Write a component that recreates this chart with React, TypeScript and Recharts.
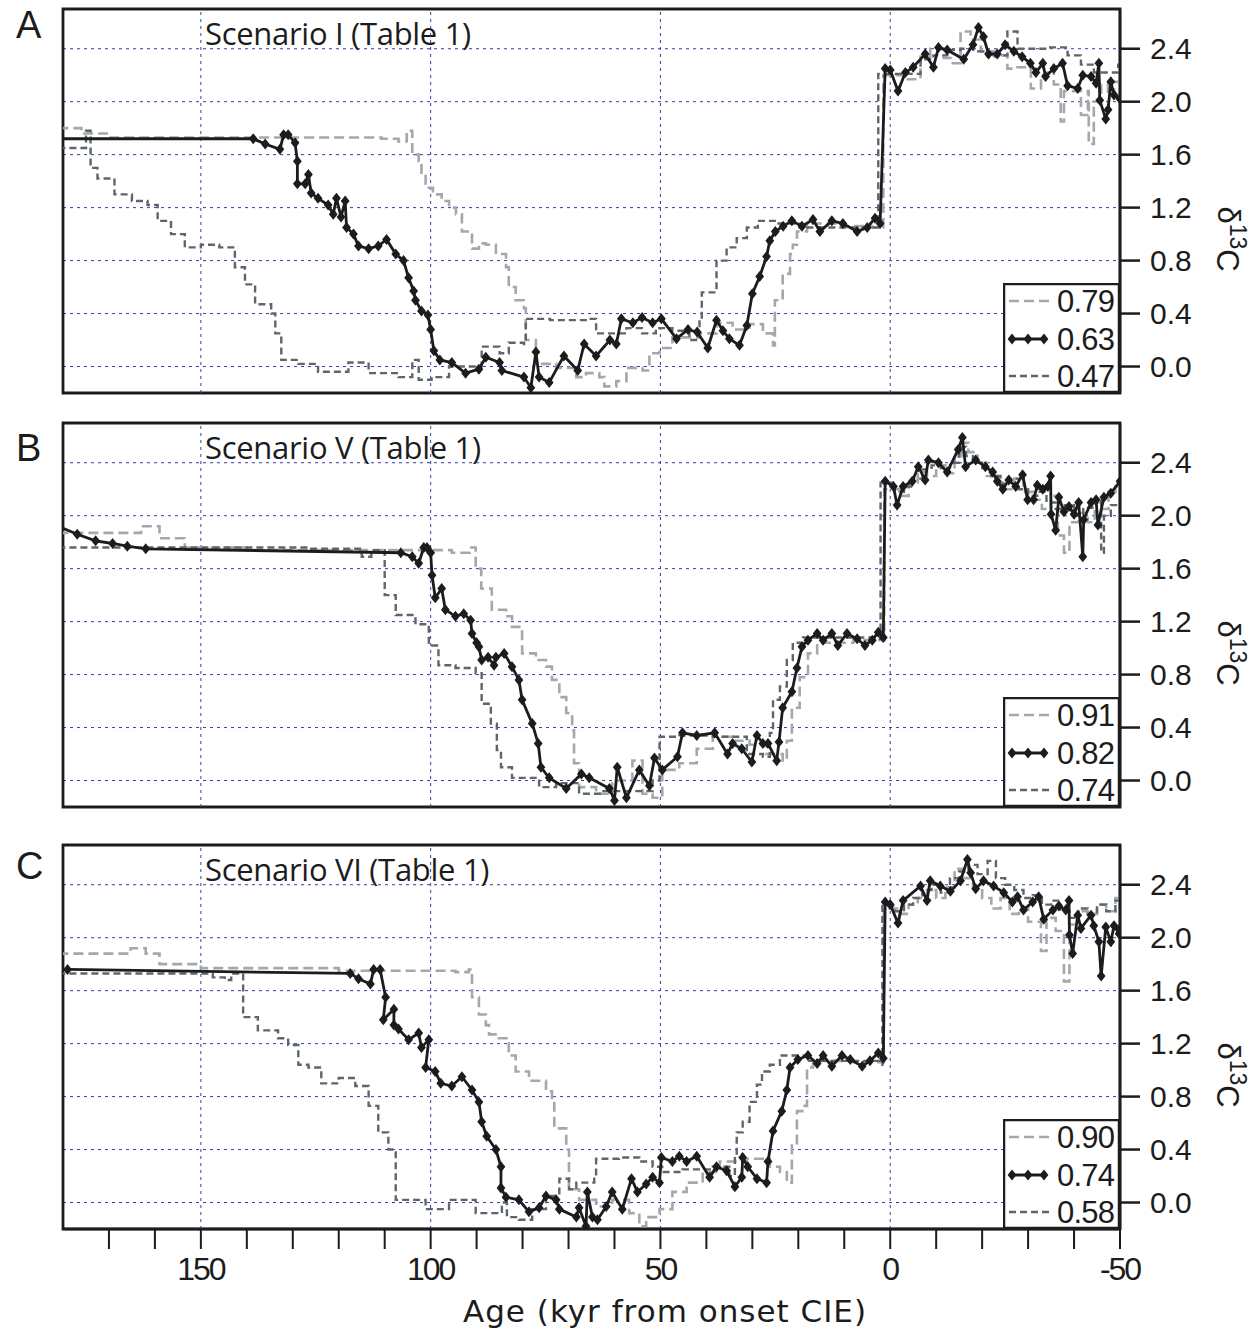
import React from 'react'
import {
  CartesianGrid,
  Legend,
  Line,
  LineChart,
  ReferenceArea,
  ReferenceLine,
  XAxis,
  YAxis,
} from 'recharts'

type Pt = [number, number]

// x axis: age in kyr from onset CIE (reversed, 180 -> -50)
const ageTicks = [170, 160, 150, 140, 130, 120, 110, 100, 90, 80, 70, 60, 50, 40, 30, 20, 10, 0, -10, -20, -30, -40, -50]
const ageLabels = [150, 100, 50, 0, -50]
const ageGrid = [150, 100, 50, 0]
const d13cTicks = [0, 0.4, 0.8, 1.2, 1.6, 2.0, 2.4]

// ---- Panel A, Scenario I ----
const aHi: Pt[] = [
  [181, 1.8], [176, 1.76], [170, 1.73], [140, 1.73], [110.7, 1.72], [107, 1.7], [105.2, 1.78], [104, 1.6],
  [102.6, 1.55], [102, 1.45], [101.1, 1.35], [99.5, 1.3], [97.6, 1.25], [96, 1.2], [94.5, 1.15], [93.2, 1.02],
  [91, 0.89], [89.5, 0.93], [88, 0.92], [85.8, 0.85], [83.6, 0.75], [83, 0.6], [81.5, 0.5], [79.7, 0.44],
  [79.3, 0.2], [77.1, 0.02], [72.7, -0.01], [68.3, -0.08], [66.2, -0.05], [63.3, -0.08], [62.2, -0.15],
  [59.6, -0.11], [57.4, -0.01], [53.9, -0.03], [52.4, 0.1], [50.2, 0.14], [47.4, 0.22], [41.5, 0.25],
  [37.8, 0.33], [34.3, 0.28], [30.6, 0.32], [27.7, 0.25], [25.5, 0.16], [25.1, 0.5], [23.4, 0.7], [21.8, 0.85],
  [21.2, 0.92], [20.3, 1.02], [18.1, 1.08], [10, 1.06], [4, 1.05], [1.5, 2.2], [-2.8, 2.17], [-6.6, 2.34],
  [-8.7, 2.4], [-11.6, 2.33], [-13.1, 2.29], [-15.3, 2.53], [-17.5, 2.47], [-19.7, 2.38], [-22.5, 2.35],
  [-25.5, 2.25], [-27.7, 2.26], [-30.6, 2.1], [-32.8, 2.2], [-34.3, 2.25], [-35.6, 2.13], [-37.1, 1.85],
  [-37.8, 2.08], [-40, 2.08], [-41.5, 1.9], [-43, 2.08], [-43.2, 1.68], [-44.3, 2.0], [-45.9, 2.13],
  [-47.4, 2.05], [-48.7, 2.15], [-50, 2.17],
]
const aMid: Pt[] = [
  [181, 1.72], [138.6, 1.72], [136, 1.68], [132.8, 1.64], [132, 1.75], [131, 1.75], [129.5, 1.69], [129, 1.55],
  [129, 1.38], [127.3, 1.38], [126.6, 1.45], [126, 1.31], [124.5, 1.27], [122.3, 1.22], [121.2, 1.15],
  [120.5, 1.27], [119.5, 1.13], [118.6, 1.25], [118.3, 1.05], [116.8, 1.0], [115.7, 0.91], [113.5, 0.89],
  [111.4, 0.91], [109.6, 0.96], [107.6, 0.85], [105.9, 0.8], [104.8, 0.67], [103.7, 0.57], [103.3, 0.5],
  [102, 0.42], [100.6, 0.39], [100, 0.28], [99.3, 0.12], [98, 0.05], [95.4, 0.03], [92.4, -0.05],
  [89.5, -0.02], [88, 0.07], [85, 0.03], [84.5, -0.03], [79.7, -0.08], [78.2, -0.16], [77.1, 0.11],
  [76.4, -0.08], [74.2, -0.12], [71, 0.08], [68, -0.03], [66.6, 0.17], [64, 0.08], [61, 0.2], [59.6, 0.17],
  [58.5, 0.36], [56, 0.33], [54, 0.37], [51.7, 0.33], [49.8, 0.36], [46.5, 0.21], [44, 0.28], [42, 0.26],
  [39.7, 0.14], [37.8, 0.35], [36.4, 0.27], [35, 0.21], [32.8, 0.16], [31.2, 0.31], [30, 0.55], [28.4, 0.68],
  [26.9, 0.83], [26.2, 0.95], [25, 1.02], [23.3, 1.06], [21.4, 1.1], [19.2, 1.06], [16.8, 1.11], [15.3, 1.02],
  [12.7, 1.1], [10.3, 1.08], [7.2, 1.02], [5, 1.05], [3.3, 1.12], [2.2, 1.08], [1.1, 2.25], [0, 2.24],
  [-1.7, 2.08], [-3.3, 2.22], [-5, 2.26], [-7.6, 2.36], [-9.4, 2.26], [-10.5, 2.41], [-12.4, 2.39],
  [-16, 2.32], [-18, 2.43], [-19.2, 2.56], [-20.3, 2.49], [-21.4, 2.36], [-23.3, 2.36], [-25, 2.43],
  [-26.9, 2.38], [-28.7, 2.34], [-30.5, 2.29], [-31.7, 2.22], [-33.2, 2.29], [-33.8, 2.19], [-35.6, 2.25],
  [-37.5, 2.29], [-38.6, 2.12], [-40.8, 2.1], [-41.9, 2.2], [-43.7, 2.19], [-44.8, 2.14], [-45.4, 2.29],
  [-45.6, 2.01], [-46.9, 1.87], [-47.4, 1.94], [-48, 2.15], [-48.7, 2.05], [-50, 2.02],
]
const aLo: Pt[] = [
  [181, 1.65], [176, 1.65], [175, 1.78], [174, 1.5], [172.5, 1.42], [168.8, 1.3], [165, 1.25], [161.6, 1.22],
  [159.4, 1.1], [156.5, 1.0], [153.5, 0.9], [150, 0.92], [146, 0.9], [142.6, 0.75], [140.4, 0.62],
  [138.2, 0.47], [134.7, 0.4], [133.8, 0.25], [132.5, 0.05], [128.8, 0.02], [124.5, -0.04], [117.9, 0.03],
  [113.5, -0.05], [107, -0.08], [104, 0.05], [102.6, -0.1], [99.8, -0.08], [96, 0.0], [88.9, 0.15], [85, 0.1],
  [83, 0.18], [79.7, 0.17], [79.3, 0.36], [74, 0.35], [66, 0.36], [64, 0.25], [57.4, 0.29], [54, 0.25],
  [51, 0.29], [47.4, 0.27], [43.7, 0.2], [41.5, 0.35], [41, 0.56], [38.6, 0.56], [37.8, 0.8], [35.6, 0.9],
  [33.4, 0.97], [31.2, 1.05], [28.8, 1.1], [24.7, 1.08], [19.7, 1.05], [2.8, 1.05], [2.6, 2.21], [-2.8, 2.21],
  [-6.6, 2.32], [-9.4, 2.35], [-12.4, 2.39], [-15.3, 2.4], [-18.1, 2.38], [-21.2, 2.34], [-23.3, 2.35],
  [-25.5, 2.53], [-27, 2.53], [-27.7, 2.4], [-31.2, 2.4], [-34.3, 2.41], [-38.6, 2.35], [-41.5, 2.28],
  [-44.3, 2.22], [-47.4, 2.22], [-49.6, 2.28], [-50, 2.28],
]

// ---- Panel B, Scenario V ----
const bHi: Pt[] = [
  [181, 1.87], [166.6, 1.87], [163, 1.92], [159, 1.83], [153.5, 1.76], [140, 1.74], [95.4, 1.72], [91.5, 1.76],
  [90.2, 1.6], [89, 1.45], [86.7, 1.29], [83.6, 1.24], [82.3, 1.16], [80.1, 0.96], [77.1, 0.91], [74.9, 0.86],
  [73.6, 0.76], [72, 0.63], [70.5, 0.51], [69.2, 0.38], [68.8, 0.13], [67.7, -0.05], [64, -0.1], [60.5, 0.0],
  [56.1, 0.15], [53.9, -0.1], [51.7, -0.13], [49.6, 0.08], [45.9, 0.13], [42.1, 0.24], [38.6, 0.33],
  [34.3, 0.3], [30.6, 0.27], [26.9, 0.2], [23.4, 0.15], [22.5, 0.3], [21.4, 0.55], [19.7, 0.78], [17.9, 0.96],
  [15.9, 1.04], [8, 1.06], [1.5, 1.06], [1.3, 2.2], [-2, 2.15], [-4, 2.25], [-6, 2.33], [-8, 2.3], [-10, 2.38],
  [-12, 2.32], [-14, 2.45], [-15.5, 2.55], [-17, 2.48], [-19, 2.4], [-21, 2.3], [-23, 2.25], [-25, 2.2],
  [-27, 2.28], [-29, 2.18], [-31, 2.12], [-33, 2.05], [-35, 2.15], [-36.5, 1.85], [-37.8, 1.72], [-39, 1.95],
  [-41, 2.02], [-43, 1.95], [-44.5, 2.1], [-46, 2.05], [-47.5, 2.18], [-49, 2.22], [-50, 2.28],
]
const bMid: Pt[] = [
  [181, 1.92], [176.9, 1.86], [172.9, 1.81], [169.2, 1.79], [166, 1.77], [162, 1.75], [106.5, 1.72], [104, 1.69],
  [102.6, 1.64], [101.5, 1.76], [100.8, 1.76], [100, 1.72], [99.7, 1.55], [99, 1.38], [97.6, 1.45], [96.8, 1.29],
  [94.6, 1.24], [92.8, 1.26], [91.3, 1.21], [91, 1.11], [90, 1.04], [89.5, 1.01], [88.9, 0.91], [87.5, 0.93],
  [86.2, 0.87], [85.8, 0.93], [84, 0.96], [82.3, 0.86], [80.8, 0.76], [80.1, 0.61], [77.9, 0.43], [76.6, 0.28],
  [76, 0.1], [74.2, 0.02], [70.5, -0.06], [67.2, 0.05], [65.5, 0.02], [61.1, -0.06], [60, -0.15], [59.4, 0.1],
  [57.4, -0.13], [54.6, 0.08], [52.4, -0.04], [51.3, 0.17], [49.6, 0.08], [46.3, 0.18], [45.2, 0.36],
  [42.1, 0.34], [38.2, 0.36], [35.4, 0.2], [34.3, 0.28], [32.3, 0.24], [30.1, 0.14], [29, 0.34], [27.7, 0.28],
  [26.6, 0.28], [24.7, 0.15], [24.2, 0.29], [23.4, 0.55], [21.4, 0.67], [20.3, 0.85], [19.2, 1.01],
  [17.9, 1.06], [15.9, 1.11], [14.6, 1.06], [12.7, 1.11], [11.4, 1.02], [9.4, 1.11], [7.2, 1.07], [5.5, 1.02],
  [3.9, 1.06], [2.6, 1.12], [1.5, 1.08], [1.1, 2.26], [-0.7, 2.22], [-1.5, 2.08], [-2.8, 2.22], [-4.8, 2.26],
  [-6.1, 2.37], [-7.6, 2.27], [-8.3, 2.42], [-10.5, 2.4], [-12.4, 2.33], [-14.8, 2.5], [-15.7, 2.59],
  [-16.4, 2.37], [-18.6, 2.42], [-20.7, 2.37], [-22.3, 2.33], [-23.3, 2.26], [-24.5, 2.2], [-25.8, 2.27],
  [-27.3, 2.22], [-28.8, 2.31], [-29.9, 2.12], [-31.2, 2.12], [-32, 2.23], [-33.2, 2.2], [-34.3, 2.22],
  [-34.9, 2.3], [-35, 2.01], [-36, 1.89], [-36.7, 2.14], [-37.8, 2.03], [-38.9, 2.07], [-40, 2.01],
  [-41, 2.1], [-41.9, 1.69], [-42.1, 1.97], [-43.7, 2.1], [-44.8, 2.12], [-45.2, 1.93], [-46.5, 2.14],
  [-48, 2.17], [-50, 2.26],
]
const bLo: Pt[] = [
  [181, 1.76], [126, 1.75], [115, 1.69], [112.9, 1.74], [110, 1.4], [107.6, 1.25], [103.3, 1.18], [100.4, 1.02],
  [98.3, 0.87], [94.6, 0.85], [90.2, 0.81], [88.9, 0.58], [86.9, 0.43], [85.6, 0.23], [84.7, 0.1], [82.3, 0.02],
  [76.4, -0.05], [72.7, -0.02], [67.7, -0.1], [62.7, -0.08], [56.8, -0.08], [51.7, 0.0], [50.2, 0.33],
  [45.9, 0.34], [38.6, 0.33], [31.2, 0.2], [27.7, 0.18], [26.2, 0.36], [25.5, 0.61], [24, 0.71], [22.5, 0.91],
  [21.2, 1.04], [19, 1.08], [2.2, 1.07], [2.1, 2.25], [-1, 2.18], [-3, 2.22], [-5, 2.28], [-7, 2.35], [-9, 2.38],
  [-11, 2.36], [-13, 2.4], [-15, 2.52], [-16.5, 2.45], [-18, 2.4], [-20, 2.36], [-22, 2.3], [-24, 2.24],
  [-26, 2.28], [-28, 2.2], [-30, 2.15], [-32, 2.18], [-34, 2.1], [-36, 2.05], [-38, 2.08], [-40, 2.0],
  [-42, 2.06], [-44, 2.12], [-45.9, 1.72], [-46.5, 2.0], [-48, 2.08], [-50, 2.02],
]

// ---- Panel C, Scenario VI ----
const cHi: Pt[] = [
  [181, 1.88], [166, 1.88], [165.3, 1.92], [162, 1.88], [159, 1.8], [150, 1.77], [120, 1.75], [94.6, 1.74],
  [91.7, 1.76], [91, 1.55], [89.5, 1.42], [88, 1.34], [87.3, 1.27], [85.2, 1.24], [83, 1.11], [81.5, 0.99],
  [78.6, 0.92], [74.9, 0.84], [73.6, 0.79], [73.1, 0.56], [70.5, 0.4], [69.9, 0.1], [67.7, 0.02], [64, -0.03],
  [60.5, 0.02], [56.8, -0.08], [54.6, -0.18], [53.1, -0.11], [50.2, -0.05], [47.4, 0.08], [44.3, 0.15],
  [40.8, 0.23], [37.1, 0.31], [31.2, 0.33], [26.2, 0.27], [24, 0.23], [22.5, 0.15], [21.4, 0.43], [20.3, 0.69],
  [18.6, 0.73], [18.1, 1.02], [16.8, 1.07], [8, 1.06], [1.6, 1.06], [1.4, 2.22], [-2, 2.18], [-4, 2.25],
  [-6, 2.3], [-8, 2.36], [-10, 2.3], [-12, 2.38], [-14, 2.52], [-16, 2.45], [-18, 2.38], [-20, 2.3], [-22, 2.22],
  [-24, 2.3], [-26, 2.18], [-28, 2.22], [-30, 2.12], [-32.8, 1.9], [-34, 2.15], [-36, 2.05], [-37.8, 1.67],
  [-39, 2.1], [-41, 2.2], [-43, 2.18], [-45, 2.25], [-47, 2.2], [-49, 2.3], [-50, 2.32],
]
const cMid: Pt[] = [
  [179, 1.76], [117.5, 1.73], [115.7, 1.69], [113.1, 1.65], [112.4, 1.76], [111, 1.76], [109.8, 1.55],
  [110.3, 1.38], [108, 1.46], [108, 1.34], [107, 1.31], [104.8, 1.23], [102.6, 1.28], [102, 1.17], [100.4, 1.23],
  [101.1, 1.02], [99, 0.99], [97.8, 0.9], [95.4, 0.88], [93.2, 0.95], [91, 0.85], [89.5, 0.76], [88.9, 0.61],
  [87.8, 0.5], [85.8, 0.4], [84.7, 0.27], [84.7, 0.11], [83.6, 0.04], [80.8, 0.02], [78.6, -0.07], [76.4, -0.04],
  [74.9, 0.05], [72.7, 0.02], [72, -0.05], [68.3, -0.11], [67.7, -0.04], [66.2, -0.18], [65.9, 0.08],
  [64.8, -0.11], [63.7, -0.13], [61.8, -0.03], [60.5, 0.08], [58.3, -0.05], [56.3, 0.18], [55, 0.08],
  [53.1, 0.14], [51.7, 0.19], [50.2, 0.15], [49.8, 0.34], [47.4, 0.31], [45.9, 0.35], [44.3, 0.31],
  [42.1, 0.35], [39.3, 0.19], [37.8, 0.27], [35.6, 0.24], [33.8, 0.12], [32.3, 0.19], [32.1, 0.34], [31, 0.27],
  [29, 0.18], [26.9, 0.15], [26.6, 0.31], [25.5, 0.54], [23.6, 0.69], [22.5, 0.85], [21.8, 1.02], [20.1, 1.08],
  [17.9, 1.11], [15.9, 1.05], [14.6, 1.11], [12.7, 1.03], [10.5, 1.11], [8.7, 1.08], [6.1, 1.03], [4.4, 1.07],
  [2.6, 1.13], [1.5, 1.09], [1.1, 2.27], [0, 2.25], [-1.7, 2.11], [-2.8, 2.28], [-6.6, 2.39], [-8, 2.28],
  [-8.7, 2.43], [-10.9, 2.39], [-13.1, 2.35], [-15.3, 2.43], [-16.8, 2.59], [-17.5, 2.49], [-18.6, 2.37],
  [-20.3, 2.43], [-22.5, 2.39], [-24.7, 2.34], [-26.6, 2.27], [-27.7, 2.31], [-29, 2.21], [-31, 2.27],
  [-32.3, 2.31], [-33.4, 2.14], [-35.4, 2.21], [-36.7, 2.24], [-38.2, 2.21], [-38.9, 2.28], [-39, 2.02],
  [-39.7, 1.88], [-40.8, 2.17], [-41.5, 2.07], [-43.7, 2.17], [-44.3, 2.09], [-45.4, 1.97], [-45.9, 1.71],
  [-46.9, 2.08], [-48, 1.97], [-48.7, 2.09], [-49.8, 2.03], [-50, 2.07],
]
const cLo: Pt[] = [
  [181, 1.73], [147.8, 1.73], [147.4, 1.7], [144.8, 1.68], [143.4, 1.73], [140.8, 1.4], [137.6, 1.3],
  [133.2, 1.24], [131, 1.19], [128.8, 1.04], [126.6, 1.02], [123.8, 0.9], [120, 0.94], [116.4, 0.88],
  [113.5, 0.73], [111.4, 0.53], [109.2, 0.4], [107.6, 0.02], [101.1, -0.05], [96, 0.02], [93.2, 0.02],
  [90.2, -0.08], [85.2, -0.07], [84.5, 0.0], [83.4, -0.11], [80.8, -0.13], [77.9, -0.05], [74.9, 0.05],
  [72, 0.18], [69.9, 0.1], [68.3, 0.15], [64.4, 0.18], [64, 0.33], [59, 0.34], [54.6, 0.31], [51.7, 0.27],
  [49.6, 0.23], [45.2, 0.25], [38.6, 0.27], [35, 0.2], [33.8, 0.35], [33.4, 0.53], [32.1, 0.61], [30.6, 0.76],
  [29, 0.89], [27.9, 0.99], [26.2, 1.04], [24, 1.11], [20.3, 1.11], [18.1, 1.07], [2.2, 1.04], [1.7, 2.24],
  [-1, 2.2], [-3, 2.25], [-5, 2.3], [-7, 2.36], [-9, 2.4], [-11, 2.34], [-13, 2.45], [-15, 2.5], [-17, 2.55],
  [-19, 2.48], [-21.2, 2.58], [-23, 2.45], [-25, 2.4], [-27, 2.36], [-29, 2.3], [-31, 2.32], [-33, 2.25],
  [-35, 2.28], [-37, 2.2], [-39, 2.15], [-41, 2.22], [-43, 2.18], [-45, 2.25], [-47, 2.2], [-49, 2.28],
  [-50, 2.3],
]

const legendA = ['0.79', '0.63', '0.47']
const legendB = ['0.91', '0.82', '0.74']
const legendC = ['0.90', '0.74', '0.58']

const INK = '#1c1c1c'
const LIGHT = '#a3a8ac'
const DARK = '#5d676b'
const GRID = '#3a3aa8'
const SANS = '"Liberation Sans", Arial, sans-serif'
const MYRIAD = '"Open Sans", "Noto Sans", sans-serif'

const toRows = (pts: Pt[]) => pts.map(([age, v]) => ({ age, v }))

const diamondPath = (cx: number, cy: number, s: number) =>
  `M${cx},${cy - s}L${cx + s * 0.8},${cy}L${cx},${cy + s}L${cx - s * 0.8},${cy}Z`

const Diamond = (props: any) => {
  const { cx, cy, index } = props
  if (cx == null || cy == null) return <g key={`d${index}`} />
  return <path key={`d${index}`} d={diamondPath(cx, cy, 5.5)} fill={INK} />
}

function LegendBox({ labels }: { labels: string[] }) {
  const rows = [18, 56, 93]
  return (
    <svg width={117} height={110} style={{ display: 'block' }}>
      <rect x={1} y={1} width={115} height={108} fill="#fff" stroke={INK} strokeWidth={2.5} />
      <line x1={6} x2={46} y1={rows[0]} y2={rows[0]} stroke={LIGHT} strokeWidth={2.5} strokeDasharray="10 5" />
      <line x1={6} x2={44} y1={rows[1]} y2={rows[1]} stroke={INK} strokeWidth={2.8} />
      {[9, 25, 41].map((x) => (
        <path key={x} d={diamondPath(x, rows[1], 5.5)} fill={INK} />
      ))}
      <line x1={6} x2={46} y1={rows[2]} y2={rows[2]} stroke={DARK} strokeWidth={2.5} strokeDasharray="7 4" />
      {labels.map((t, i) => (
        <text key={t} x={54} y={rows[i] + 11} fontSize={31} fontFamily={SANS} fill={INK} letterSpacing={-0.8}>
          {t}
        </text>
      ))}
    </svg>
  )
}

const D13cLabel = (props: any) => {
  const vb = props.viewBox || {}
  const cx = vb.x + 108
  const cy = vb.y + vb.height / 2 + 38
  return (
    <text
      x={cx}
      y={cy}
      transform={`rotate(90, ${cx}, ${cy})`}
      textAnchor="middle"
      dominantBaseline="central"
      fontFamily={SANS}
      fontSize={31}
      fill={INK}
    >
      δ
      <tspan fontSize={23} dy={-10}>13</tspan>
      <tspan dy={10}>C</tspan>
    </text>
  )
}

const AgeLabel = (props: any) => {
  const vb = props.viewBox || {}
  return (
    <text
      x={665}
      y={vb.y + 93}
      textAnchor="middle"
      fontFamily='"DejaVu Sans", Verdana, sans-serif'
      fontSize={31}
      letterSpacing={1}
      fill={INK}
    >
      Age (kyr from onset CIE)
    </text>
  )
}

type PanelProps = {
  top: number
  letter: string
  letterY: number
  title: string
  hi: Pt[]
  mid: Pt[]
  lo: Pt[]
  legend: string[]
  showX?: boolean
}

function Panel({ top, letter, letterY, title, hi, mid, lo, legend, showX }: PanelProps) {
  const height = showX ? 9 + 384 + 100 : 9 + 384 + 7
  return (
    <div style={{ position: 'absolute', left: 0, top }}>
      <LineChart
        width={1260}
        height={height}
        margin={{ top: 9, right: 0, bottom: showX ? 0 : 7, left: 63 }}
      >
        <XAxis
          dataKey="age"
          type="number"
          domain={[-50, 180]}
          reversed
          allowDataOverflow
          hide={!showX}
          ticks={ageTicks}
          interval={0}
          tickFormatter={(v) => (ageLabels.includes(v) ? String(v) : '')}
          tickSize={20}
          tickMargin={8}
          tickLine={{ stroke: INK, strokeWidth: 2 }}
          axisLine={{ stroke: INK, strokeWidth: 2.5 }}
          tick={{ fontSize: 32, fontFamily: SANS, fill: INK, letterSpacing: -2 }}
          height={100}
          label={{ content: AgeLabel }}
        />
        <YAxis
          orientation="right"
          type="number"
          domain={[-0.2, 2.7]}
          allowDataOverflow
          ticks={d13cTicks}
          interval={0}
          tickFormatter={(v) => v.toFixed(1)}
          width={140}
          tickSize={20}
          tickMargin={10}
          tickLine={{ stroke: INK, strokeWidth: 2.5 }}
          axisLine={{ stroke: INK, strokeWidth: 2.5 }}
          tick={{ fontSize: 30, fontFamily: SANS, fill: INK }}
          label={{ content: D13cLabel }}
        />
        <CartesianGrid vertical={false} stroke={GRID} strokeDasharray="3 4" strokeWidth={1} />
        {ageGrid.map((x) => (
          <ReferenceLine key={x} x={x} stroke={GRID} strokeDasharray="3 4" strokeWidth={1} />
        ))}
        <Line
          data={toRows(hi)}
          dataKey="v"
          type="stepAfter"
          stroke={LIGHT}
          strokeWidth={2.6}
          strokeDasharray="10 5"
          dot={false}
          isAnimationActive={false}
        />
        <Line
          data={toRows(lo)}
          dataKey="v"
          type="stepAfter"
          stroke={DARK}
          strokeWidth={2.4}
          strokeDasharray="7 4"
          dot={false}
          isAnimationActive={false}
        />
        <Line
          data={toRows(mid)}
          dataKey="v"
          type="linear"
          stroke={INK}
          strokeWidth={2.8}
          dot={Diamond}
          isAnimationActive={false}
        />
        <ReferenceArea
          x1={180}
          x2={-50}
          y1={-0.2}
          y2={2.7}
          fill="none"
          fillOpacity={0}
          stroke={INK}
          strokeWidth={2.8}
        />
        <Legend
          layout="horizontal"
          verticalAlign="middle"
          align="center"
          wrapperStyle={{ position: 'absolute', left: 1003, top: 9 + 384 - 110, width: 117, height: 110 }}
          content={() => <LegendBox labels={legend} />}
        />
        <text x={16} y={letterY} fontSize={38} fontFamily={SANS} fill={INK}>
          {letter}
        </text>
        <text x={205} y={45} fontSize={31} fontFamily={MYRIAD} fill={INK} letterSpacing={-0.3}>
          {title}
        </text>
      </LineChart>
    </div>
  )
}

export default function App() {
  if (typeof document !== 'undefined') document.body.style.margin = '0'
  return (
    <div style={{ position: 'relative', width: 1260, height: 1332, background: '#fff' }}>
      <Panel top={0} letter="A" letterY={38} title="Scenario I (Table 1)" hi={aHi} mid={aMid} lo={aLo} legend={legendA} />
      <Panel top={414} letter="B" letterY={47} title="Scenario V (Table 1)" hi={bHi} mid={bMid} lo={bLo} legend={legendB} />
      <Panel top={836} letter="C" letterY={43} title="Scenario VI (Table 1)" hi={cHi} mid={cMid} lo={cLo} legend={legendC} showX />
    </div>
  )
}
